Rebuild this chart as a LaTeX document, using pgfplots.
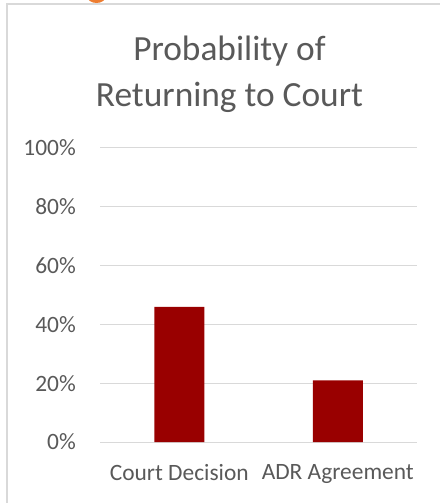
\documentclass[border=0pt]{standalone}
\usepackage{fontspec}
\setmainfont{Carlito}
\usepackage{pgfplots}
\pgfplotsset{compat=1.18}
\definecolor{txt}{HTML}{595959}
\definecolor{gridc}{HTML}{D9D9D9}
\definecolor{barc}{HTML}{990000}
\definecolor{org}{HTML}{ED7D31}
\begin{document}
\begin{tikzpicture}
\path[use as bounding box] (0,0) rectangle (440bp,503bp);
\begin{scope}
\clip (0,0) rectangle (440bp,503bp);
\fill[org] (96.5bp,507bp) ellipse (9.5bp and 7bp);
\end{scope}
\draw[gridc, line width=1.2bp] (7bp,-5bp) -- (7bp,499bp) -- (445bp,499bp);
\begin{axis}[
  at={(100bp,61bp)}, anchor=south west,
  scale only axis, width=317bp, height=294bp,
  xmin=-0.5, xmax=1.5, ymin=0, ymax=100,
  axis line style={draw=none}, major tick length=0pt,
  xtick={0,1}, xticklabels={Court Decision, ADR Agreement},
  ytick={0,20,40,60,80,100}, yticklabels={0\%,20\%,40\%,60\%,80\%,100\%},
  ymajorgrids, grid style={gridc, line width=1bp},
  /pgf/number format/assume math mode=true,
  tick label style={font=\fontsize{23.5}{28}\selectfont, text=txt},
  yticklabel style={anchor=east, inner sep=0pt, xshift=-24bp},
  xticklabel style={anchor=north, inner sep=0pt, yshift=-22bp},
  ybar, bar width=50bp, clip=false,
]
\addplot[fill=barc, draw=none] coordinates {(0,46) (1,21)};
\end{axis}
\node[anchor=base, text=txt, inner sep=0pt, font=\fontsize{35.5}{42}\selectfont] at (229.5bp,442bp) {Probability of};
\node[anchor=base, text=txt, inner sep=0pt, font=\fontsize{35.5}{42}\selectfont] at (229.5bp,396bp) {Returning to Court};
\end{tikzpicture}
\end{document}
